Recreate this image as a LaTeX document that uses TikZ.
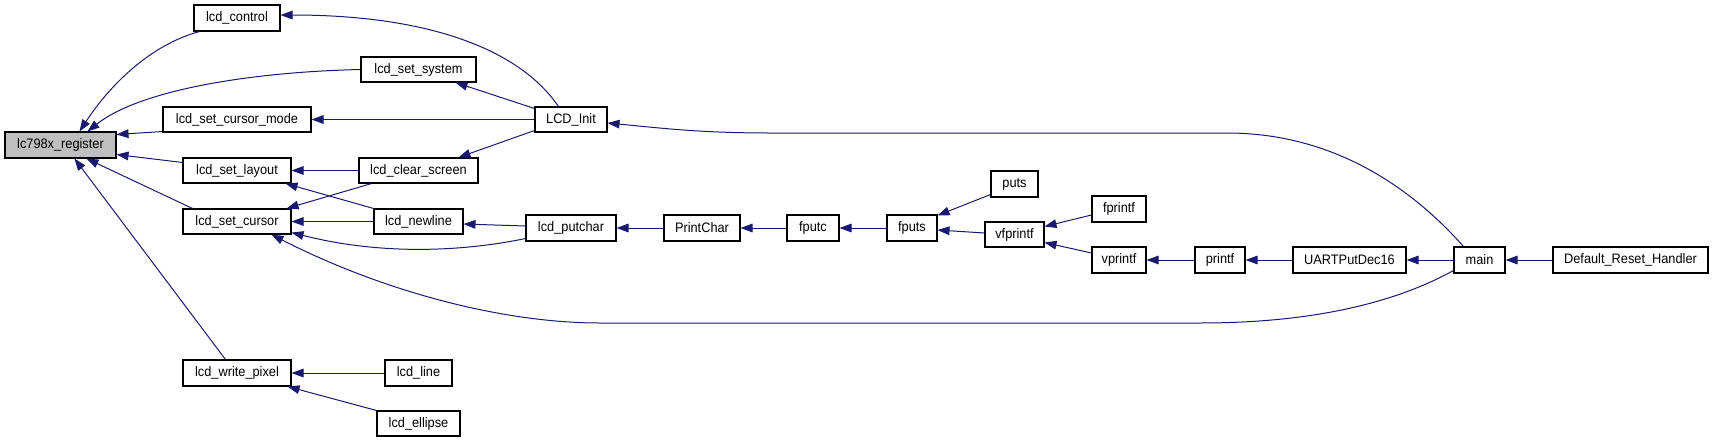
\documentclass[tikz,border=0pt]{standalone}
\usepackage{fontspec}
\setmainfont[FakeStretch=0.93]{Liberation Sans}
\usetikzlibrary{arrows.meta,calc}
\definecolor{edgeblue}{HTML}{191970}
\definecolor{regfill}{HTML}{BFBFBF}
\newcommand\mybox[7][]{\node[nbox,#1,minimum width={(#5-#3)*0.75pt},minimum height={(#6-#4)*0.75pt}] (#2) at ({(#3+#5)/2},{(#4+#6)/2}) {#7};}
\begin{document}
\begin{tikzpicture}[x=0.75pt,y=-0.75pt,
  nbox/.style={draw=black,line width=0.8pt,fill=white,inner sep=0pt,font=\fontsize{10.3pt}{12pt}\selectfont},
  edge/.style={draw=edgeblue,line width=0.75pt,-{Triangle[length=9pt,width=6.5pt,fill=edgeblue]}}]
\useasboundingbox (0,0) rectangle (1713,443);
% nodes
\mybox[fill=regfill]{reg}{5}{132}{116}{158}{lc798x\_register}
\mybox{ctrl}{194}{5}{280}{31}{lcd\_control}
\mybox{sys}{361}{57}{476}{82}{lcd\_set\_system}
\mybox{sm}{163}{107}{311}{132}{lcd\_set\_cursor\_mode}
\mybox{lay}{183}{158}{291}{183}{lcd\_set\_layout}
\mybox{cur}{183}{209}{291}{234}{lcd\_set\_cursor}
\mybox{wp}{183}{360}{291}{386}{lcd\_write\_pixel}
\mybox{init}{535}{107}{607}{132}{LCD\_Init}
\mybox{cs}{359}{158}{478}{183}{lcd\_clear\_screen}
\mybox{nl}{374}{209}{463}{234}{lcd\_newline}
\mybox{nline}{385}{360}{452}{386}{lcd\_line}
\mybox{el}{377}{411}{460}{436}{lcd\_ellipse}
\mybox{pc}{526}{215}{616}{241}{lcd\_putchar}
\mybox{prc}{664}{215}{740}{241}{PrintChar}
\mybox{fputc}{787}{215}{839}{241}{fputc}
\mybox{fputs}{887}{215}{937}{241}{fputs}
\mybox{puts}{991}{171}{1038}{197}{puts}
\mybox{vfp}{985}{222}{1044}{247}{vfprintf}
\mybox{fpr}{1092}{196}{1146}{222}{fprintf}
\mybox{vpr}{1092}{247}{1146}{273}{vprintf}
\mybox{prf}{1195}{247}{1245}{273}{printf}
\mybox{uart}{1293}{247}{1406}{273}{UARTPutDec16}
\mybox{nmain}{1454}{247}{1505}{273}{main}
\mybox{drh}{1553}{247}{1708}{273}{Default\_Reset\_Handler}
% edges into lc798x_register
\draw[edge] ($(ctrl.south west)+(6,0)$) .. controls (150,45) and (110,85) .. ($(reg.north west)+(75,0)$);
\draw[edge] (sys.west) .. controls (250,72) and (140,90) .. ($(reg.north west)+(83,0)$);
\draw[edge] ($(sm.south west)+(0,-1)$) -- ($(reg.north east)+(0,3)$);
\draw[edge] ($(lay.north west)+(0,5)$) -- ($(reg.south east)+(0,-4)$);
\draw[edge] ($(cur.north west)+(10,0)$) -- ($(reg.south west)+(82,0)$);
\draw[edge] ($(wp.north west)+(43,0)$) -- ($(reg.south west)+(70,0)$);
% LCD_Init
\draw[edge] ($(init.north west)+(24,0)$) .. controls (520,50) and (430,15) .. ($(ctrl.east)+(0,-3)$);
\draw[edge] ($(init.north west)+(0,2)$) -- ($(sys.south west)+(95,0)$);
\draw[edge] (init.west) -- (sm.east);
\draw[edge] ($(init.south west)+(0,-2)$) -- ($(cs.north west)+(100,0)$);
% lcd_clear_screen
\draw[edge] (cs.west) -- (lay.east);
\draw[edge] ($(cs.south west)+(13,0)$) -- ($(cur.north east)+(-5,0)$);
% lcd_newline
\draw[edge] (nl.north west) -- ($(lay.south east)+(-6,0)$);
\draw[edge] (nl.west) -- (cur.east);
% lcd_putchar
\draw[edge] ($(pc.west)+(0,-2)$) -- ($(nl.east)+(0,2.5)$);
\draw[edge] ($(pc.south west)+(0,-3)$) .. controls (460,252) and (380,255) .. ($(cur.south east)+(0,-2)$);
% main long edges
\draw[edge] ($(nmain.south west)+(0,-3)$) .. controls (1400,300) and (1320,323) .. (1200,323) -- (600,323) .. controls (500,323) and (380,290) .. ($(cur.south west)+(89,0)$);
\draw[edge] ($(nmain.north west)+(10,0)$) .. controls (1400,175) and (1320,133) .. (1227,133) -- (770,133) .. controls (700,133) and (660,128) .. ($(init.east)+(0,3.5)$);
% pixel
\draw[edge] (nline.west) -- (wp.east);
\draw[edge] (el.north west) -- ($(wp.south east)+(-4,0)$);
% chain
\draw[edge] (prc.west) -- (pc.east);
\draw[edge] (fputc.west) -- (prc.east);
\draw[edge] (fputs.west) -- (fputc.east);
\draw[edge] ($(puts.south west)+(0,-3)$) -- ($(fputs.north east)+(0,1)$);
\draw[edge] ($(vfp.west)+(0,-1.5)$) -- ($(fputs.east)+(0,2)$);
\draw[edge] ($(fpr.west)+(0,6)$) -- ($(vfp.east)+(0,-8)$);
\draw[edge] ($(vpr.west)+(0,-7)$) -- ($(vfp.east)+(0,8)$);
\draw[edge] (prf.west) -- (vpr.east);
\draw[edge] (uart.west) -- (prf.east);
\draw[edge] (nmain.west) -- (uart.east);
\draw[edge] (drh.west) -- (nmain.east);
\end{tikzpicture}
\end{document}
